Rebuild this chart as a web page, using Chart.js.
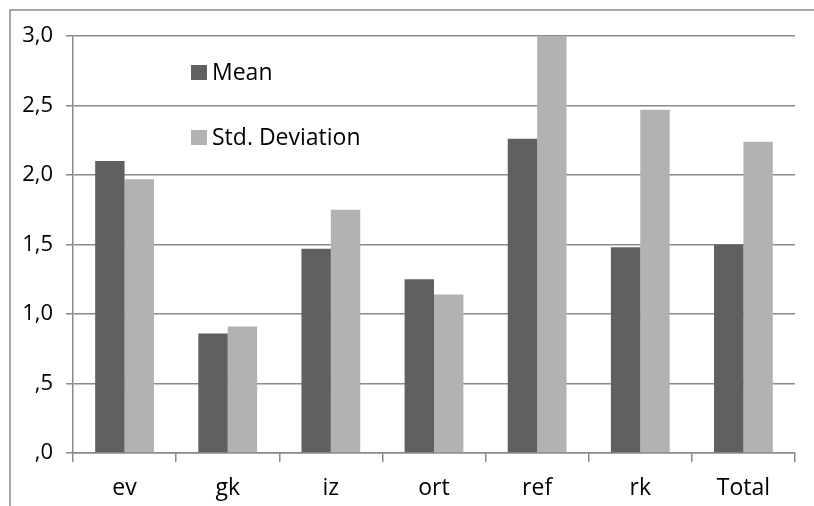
<!DOCTYPE html>
<html lang="en">
<head>
  <meta charset="UTF-8" />
  <title>Mean and Std. Deviation</title>
  <script src="https://cdn.jsdelivr.net/npm/chart.js"></script>
  <style>
    html, body {
      margin: 0;
      padding: 0;
      background: #ffffff;
    }
    .wrap {
      position: relative;
      width: 814px;
      height: 506px;
    }
  </style>
</head>
<body>
  <div class="wrap">
    <canvas id="chart" width="814" height="506"></canvas>
  </div>

  <script>
    const categories = ["ev", "gk", "iz", "ort", "ref", "rk", "Total"];
    const meanValues = [2.10, 0.86, 1.47, 1.25, 2.26, 1.48, 1.50];
    const stdValues = [1.97, 0.91, 1.75, 1.14, 3.00, 2.47, 2.24];
    const seriesNames = ["Mean", "Std. Deviation"];

    const gridGrey = "#8a8a8a";
    const fontFamily = "'Open Sans', Lato, sans-serif";

    // outer frame (only top and left edges are visible in the original)
    const framePlugin = {
      id: "frame",
      beforeDraw(chart) {
        const ctx = chart.ctx;
        ctx.save();
        ctx.strokeStyle = gridGrey;
        ctx.lineWidth = 1.5;
        ctx.beginPath();
        ctx.moveTo(10, chart.height);
        ctx.lineTo(10, 10);
        ctx.lineTo(chart.width, 10);
        ctx.stroke();
        ctx.restore();
      }
    };

    // legend sits inside the plot, stacked vertically
    const innerLegend = {
      id: "innerLegend",
      afterDraw(chart) {
        const ctx = chart.ctx;
        const rows = [72, 137];
        ctx.save();
        ctx.font = "23px " + fontFamily;
        ctx.textBaseline = "middle";
        chart.data.datasets.forEach((ds, i) => {
          ctx.fillStyle = ds.backgroundColor;
          ctx.fillRect(191, rows[i] - 7, 16, 15);
          ctx.fillStyle = "#000";
          ctx.fillText(ds.label, 212, rows[i] + 1);
        });
        ctx.restore();
      }
    };

    new Chart(document.getElementById("chart"), {
      type: "bar",
      data: {
        labels: categories,
        datasets: [
          {
            label: seriesNames[0],
            data: meanValues,
            backgroundColor: "#606060",
            categoryPercentage: 0.57,
            barPercentage: 1.0
          },
          {
            label: seriesNames[1],
            data: stdValues,
            backgroundColor: "#b2b2b2",
            categoryPercentage: 0.57,
            barPercentage: 1.0
          }
        ]
      },
      options: {
        responsive: false,
        animation: false,
        layout: {
          padding: { left: 0, top: 36, right: 19, bottom: 0 }
        },
        plugins: {
          legend: { display: false },
          tooltip: { enabled: false }
        },
        scales: {
          x: {
            afterFit: (s) => { s.height = 53; },
            grid: {
              display: true,
              drawOnChartArea: false,
              drawTicks: true,
              tickLength: 9,
              color: gridGrey,
              lineWidth: 1.5
            },
            border: { color: gridGrey, width: 1.5 },
            ticks: {
              color: "#000",
              padding: 13,
              font: { family: fontFamily, size: 23 }
            }
          },
          y: {
            min: 0,
            max: 3,
            afterFit: (s) => { s.width = 73; },
            ticks: {
              stepSize: 0.5,
              color: "#000",
              padding: 13,
              font: { family: fontFamily, size: 22 },
              callback: (v) => v.toFixed(1).replace(".", ",").replace(/^0/, "")
            },
            grid: {
              color: gridGrey,
              lineWidth: 1.5,
              tickLength: 7
            },
            border: { color: gridGrey, width: 1.5 }
          }
        }
      },
      plugins: [framePlugin, innerLegend]
    });
  </script>
</body>
</html>
